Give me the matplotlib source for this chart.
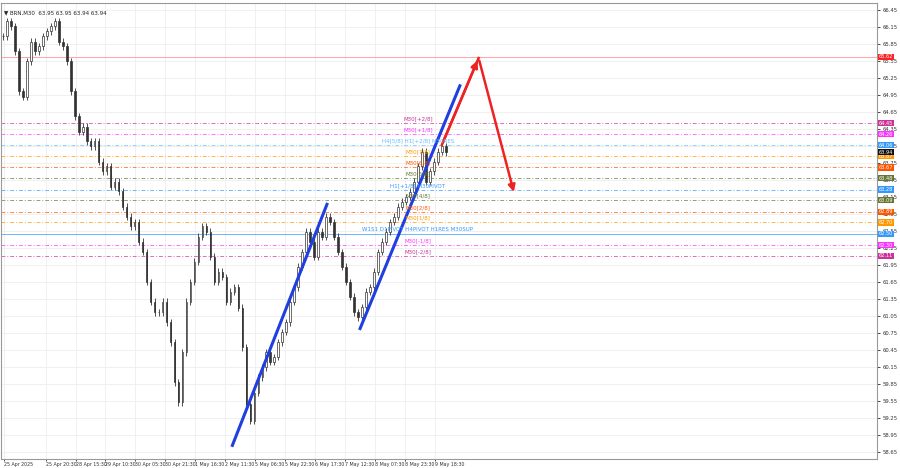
import matplotlib
matplotlib.use("Agg")
import matplotlib.pyplot as plt
import numpy as np

# close prices per bar (bar index = 4px)
closes = [65.98,66.25,66.16,65.72,65.01,64.92,65.54,65.89,65.72,65.81,65.98,66.07,66.16,66.25,65.89,65.81,
          65.54,65.01,64.57,64.30,64.39,64.13,64.04,64.13,63.77,63.60,63.69,63.33,63.42,63.25,62.98,62.80,
          62.63,62.71,62.36,62.18,61.65,61.30,61.12,61.12,61.30,60.94,60.59,59.88,59.53,60.41,61.30,61.65,
          62.01,62.45,62.63,62.54,62.10,61.65,61.83,61.74,61.30,61.48,61.56,61.20,60.50,59.50,59.20,59.70,
          59.97,60.15,60.41,60.24,60.33,60.59,60.77,60.94,61.30,61.56,61.92,62.18,62.54,62.36,62.10,62.54,
          62.45,62.80,62.71,62.45,62.18,61.92,61.65,61.39,61.12,61.03,61.21,61.48,61.56,61.83,62.18,62.36,
          62.54,62.71,62.80,62.98,63.07,63.15,63.24,63.42,63.69,63.95,63.42,63.60,63.77,63.95,64.04,63.94]
times = ["25 Apr 2025","25 Apr 20:30","28 Apr 15:30","29 Apr 10:30","30 Apr 05:30","30 Apr 21:30",
         "1 May 16:30","2 May 11:30","5 May 06:30","5 May 22:30","6 May 17:30","7 May 12:30",
         "8 May 07:30","8 May 23:30","9 May 18:30"]
time_pos = [0.3,10.7,18.2,25.7,33.2,40.7,48.2,55.7,63.2,70.7,78.2,85.7,93.2,100.7,108.2]

lvl_price = [65.62,64.45,64.26,64.06,63.87,63.67,63.48,63.28,63.09,62.89,62.70,62.50,62.30,62.11]
lvl_color = ["#ff8080","#cc3399","#ff33ff","#66bbff","#ff9900","#ff5500","#667733","#3399ff","#667733",
             "#ff5500","#ff9900","#3399ff","#ff33ff","#cc3399"]
lvl_label = ["","M30[+2/8]","M30[+1/8]","H4[5/8] H1[+2/8] M30RES","M30[7/8]","M30[6/8]","M30[5/8]",
             "H1[+1/8] M30PIVOT","M30[4/8]","M30[2/8]","M30[1/8]","W1S1 D1PIVOT H4PIVOT H1RES M30SUP",
             "M30[-1/8]","M30[-2/8]"]
tag_color = ["#ff2222","#cc3399","#ff33ff","#3399ff","#ff9900","#ff5500","#667733","#3399ff","#667733",
             "#ff5500","#ff9900","#3399ff","#ff33ff","#cc3399"]
current = 63.94

trend1_x = [57.5, 81.2]; trend1_y = [58.77, 63.02]
trend2_x = [89.5, 114.5]; trend2_y = [60.83, 65.11]
arrow_x = [110, 119.2, 128.2]; arrow_y = [64.07, 65.60, 63.19]

fig = plt.figure(figsize=(9, 4.68), dpi=100)
ax = fig.add_axes([0.001, 1-459/468, 876/900, 456/468])
ax.set_xlim(-0.5, 219)
ax.set_ylim(58.53, 66.57)

opens = [closes[0]] + closes[:-1]
for i, (o, c) in enumerate(zip(opens, closes)):
    hi = max(o, c) + 0.06; lo = min(o, c) - 0.06
    ax.vlines(i, lo, hi, color="#333333", lw=0.6, zorder=3)
    ax.add_patch(plt.Rectangle((i-0.2, min(o, c)), 0.4, max(abs(c-o), 0.01),
                               facecolor="#ffffff" if c >= o else "#333333", edgecolor="#333333", lw=0.5, zorder=4))

for p, col, lab in zip(lvl_price, lvl_color, lvl_label):
    ls = "-" if lab == "" or lab.startswith("W1") else (0, (4, 2, 1, 2))
    ax.axhline(p, color=col, lw=0.7, ls=ls, alpha=0.7, zorder=1)
    if lab:
        ax.text(104, p + 0.03, lab, color=col, fontsize=4, ha="center", va="bottom", zorder=6)

ax.plot(trend1_x, trend1_y, color="#1f3fe0", lw=2.2, zorder=5)
ax.plot(trend2_x, trend2_y, color="#1f3fe0", lw=2.2, zorder=5)
ax.plot(arrow_x[:2], arrow_y[:2], color="#ee2222", lw=1.8, zorder=5)
ax.annotate("", xy=(arrow_x[1], arrow_y[1]), xytext=(arrow_x[0], arrow_y[0]),
            arrowprops=dict(arrowstyle="-|>", color="#ee2222", lw=1.8), zorder=5)
ax.annotate("", xy=(arrow_x[2], arrow_y[2]), xytext=(arrow_x[1], arrow_y[1]),
            arrowprops=dict(arrowstyle="-|>", color="#ee2222", lw=1.8), zorder=5)

yt = np.round(np.arange(58.65, 66.46, 0.30), 2)
ax.yaxis.tick_right()
ax.set_yticks(yt)
ax.set_yticklabels([f"{v:.2f}" for v in yt], fontsize=3.8, color="#333333")
ax.set_xticks(time_pos)
ax.set_xticklabels(times, fontsize=3.4, color="#333333", ha="left")
ax.tick_params(axis="x", length=1.5, pad=1, width=0.5)
ax.tick_params(axis="y", length=2, pad=2, width=0.5)
ax.grid(True, color="#eeeeee", lw=0.6)
ax.set_axisbelow(True)
for s in ax.spines.values():
    s.set_color("#999999"); s.set_linewidth(0.8)

for p, col in zip(lvl_price + [current], tag_color + ["#111111"]):
    ax.text(1.002, (p-58.53)/(66.57-58.53), f"{p:.2f}", transform=ax.transAxes, fontsize=3.6,
            color="white", va="center", ha="left",
            bbox=dict(boxstyle="square,pad=0.12", fc=col, ec="none"))

ax.text(0.004, 0.985, "▼ BRN,M30  63.95 63.95 63.94 63.94", transform=ax.transAxes,
        fontsize=4, va="top", color="#222222")
fig.savefig("out.png", dpi=100)
